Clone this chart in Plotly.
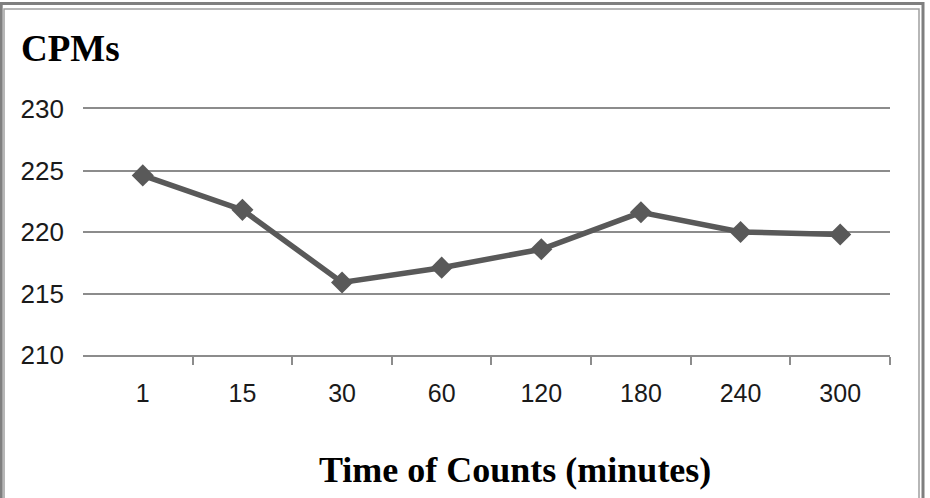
import plotly.graph_objects as go

# ---- data ----
time_labels = ["1", "15", "30", "60", "120", "180", "240", "300"]
cpm_values = [224.6, 221.8, 215.9, 217.1, 218.6, 221.6, 220.0, 219.8]
y_ticks = [210, 215, 220, 225, 230]

W, H = 930, 498
ML, MR, MT, MB = 83, 40, 109, 143
PW, PH = W - ML - MR, H - MT - MB

def px_x(px):
    return (px - ML) / PW

def px_y(py):
    return (H - MB - py) / PH

xpos = list(range(len(time_labels)))

fig = go.Figure()
fig.add_trace(go.Scatter(
    x=xpos, y=cpm_values, mode="lines+markers",
    line=dict(color="#595959", width=5.5),
    marker=dict(symbol="diamond", size=17, color="#595959"),
    showlegend=False, hoverinfo="skip",
))

grid_col = "#8c8c8c"
fig.update_layout(
    width=W, height=H,
    margin=dict(l=ML, r=MR, t=MT, b=MB),
    paper_bgcolor="white", plot_bgcolor="white",
    title=dict(text="<b>CPMs</b>", xref="container", yref="container",
               x=21 / W, xanchor="left", y=1 - 48 / H, yanchor="middle",
               font=dict(family="Liberation Serif", size=37, color="black")),
    xaxis=dict(
        range=[-0.6, 7.5], tickmode="array", tickvals=xpos, ticktext=time_labels,
        ticks="", showgrid=False, zeroline=False,
        showline=True, mirror=True, linecolor=grid_col, linewidth=1.5,
        tickfont=dict(family="Liberation Sans", size=25, color="#1a1a1a"),
        ticklabelstandoff=15,
        minor=dict(tickmode="array", tickvals=[i + 0.5 for i in xpos],
                   ticks="outside", ticklen=8, tickcolor=grid_col, tickwidth=1.5,
                   showgrid=False),
    ),
    yaxis=dict(
        range=[210, 230], tickmode="array", tickvals=y_ticks,
        ticks="", showgrid=True, gridcolor=grid_col, gridwidth=1.5,
        zeroline=False, showline=False,
        tickfont=dict(family="Liberation Sans", size=26, color="#1a1a1a"),
        ticklabelstandoff=18,
    ),
    annotations=[dict(
        text="<b>Time of Counts (minutes)</b>", xref="paper", yref="paper",
        x=px_x(515), y=px_y(470), xanchor="center", yanchor="middle",
        showarrow=False,
        font=dict(family="Liberation Serif", size=36, color="black"),
    )],
    shapes=[
        dict(type="rect", xref="paper", yref="paper",
             x0=px_x(1.2), x1=px_x(923), y0=px_y(3.5), y1=px_y(520),
             line=dict(color="#7f7f7f", width=3), layer="above"),
        dict(type="rect", xref="paper", yref="paper",
             x0=px_x(4), x1=px_x(919), y0=px_y(9), y1=px_y(520),
             line=dict(color="#a0a0a0", width=1.5), layer="above"),
    ],
)

fig.write_html("out.html", config={"displayModeBar": False},
               post_script="document.body.style.margin='0';")
